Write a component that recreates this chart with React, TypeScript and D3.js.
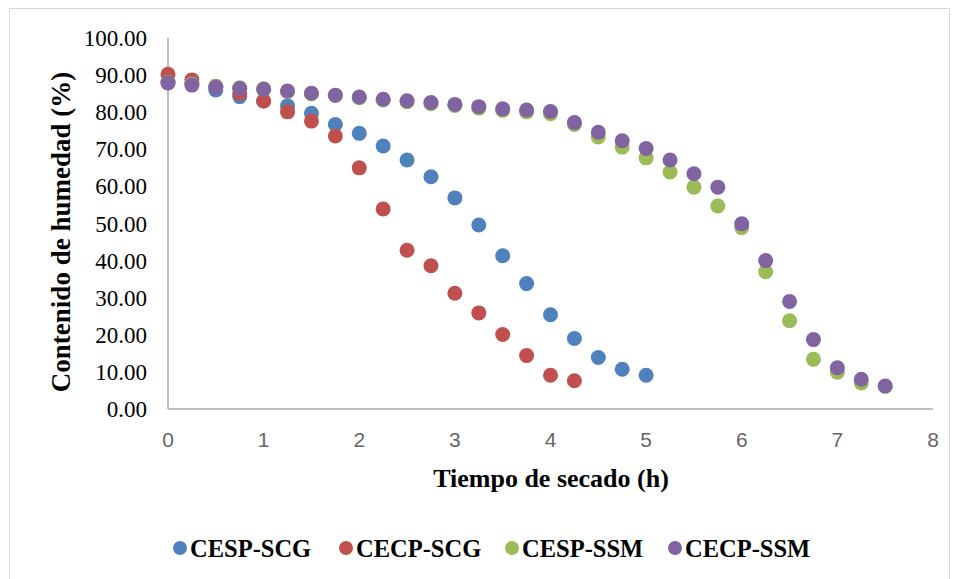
import React from 'react';
import * as d3 from 'd3';

// drying time (h) for each measurement
const tiempo = [0, 0.25, 0.5, 0.75, 1, 1.25, 1.5, 1.75, 2, 2.25, 2.5, 2.75, 3, 3.25, 3.5, 3.75,
    4, 4.25, 4.5, 4.75, 5, 5.25, 5.5, 5.75, 6, 6.25, 6.5, 6.75, 7, 7.25, 7.5];

// moisture content (%) per series
const cespScg = [88.0, 87.8, 86.0, 84.2, 83.0, 81.7, 79.7, 76.7, 74.3, 70.9, 67.1, 62.6, 56.9, 49.6,
    41.3, 33.8, 25.4, 19.0, 13.9, 10.7, 9.1];
const cecpScg = [90.2, 88.7, 87.0, 85.1, 83.0, 80.1, 77.6, 73.6, 65.0, 53.9, 42.8, 38.6, 31.2, 25.9,
    20.1, 14.4, 9.1, 7.6];
const cespSsm = [88.0, 87.6, 86.9, 86.6, 86.3, 85.6, 85.0, 84.5, 83.9, 83.3, 82.8, 82.3, 81.8, 81.1,
    80.5, 80.1, 79.6, 76.7, 73.3, 70.6, 67.7, 63.9, 59.8, 54.7, 48.9, 37.0, 23.8, 13.4, 9.9, 7.0, 6.1];
const cecpSsm = [87.9, 87.3, 86.7, 86.4, 86.2, 85.7, 85.1, 84.6, 84.1, 83.5, 83.1, 82.6, 82.1, 81.5,
    80.9, 80.6, 80.2, 77.2, 74.6, 72.3, 70.2, 67.1, 63.4, 59.8, 49.9, 40.0, 29.0, 18.7, 11.1, 8.0, 6.2];

const seriesNames = ['CESP-SCG', 'CECP-SCG', 'CESP-SSM', 'CECP-SSM'];
const seriesValues = [cespScg, cecpScg, cespSsm, cecpSsm];
const seriesColors = ['#4F81BD', '#C0504D', '#9BBB59', '#8064A2'];

const yTicks = [0, 10, 20, 30, 40, 50, 60, 70, 80, 90, 100];
const xTicks = [0, 1, 2, 3, 4, 5, 6, 7, 8];

const W = 959;
const H = 579;

export default function App() {
    const x = d3.scaleLinear().domain([0, 8]).range([168, 933]);
    const y = d3.scaleLinear().domain([0, 100]).range([409, 38]);
    const fmt = d3.format('.2f');

    // legend item positions (dot x)
    const legendX = [180, 346, 512, 675];

    return (
        <svg width={W} height={H} style={{ position: 'absolute', left: 0, top: 0, background: '#fff' }}>
            <rect x={9.5} y={8.5} width={940} height={600} fill="#fff" stroke="#d9d9d9" strokeWidth={1} />

            {/* axes */}
            <line x1={x(0)} x2={x(0)} y1={y(100)} y2={y(0)} stroke="#bfbfbf" strokeWidth={2} />
            <line x1={x(0)} x2={x(8)} y1={y(0)} y2={y(0)} stroke="#bfbfbf" strokeWidth={2} />

            {yTicks.map(t => (
                <text key={'y' + t} x={147} y={y(t)} dy="0.35em" textAnchor="end"
                    fontFamily="'Liberation Serif', 'Times New Roman', serif" fontSize={23} fill="#000">
                    {fmt(t)}
                </text>
            ))}
            {xTicks.map(t => (
                <text key={'x' + t} x={x(t)} y={440} dy="0.35em" textAnchor="middle"
                    fontFamily="'Liberation Sans', Arial, sans-serif" fontSize={21} fill="#666">
                    {t}
                </text>
            ))}

            {/* points */}
            {seriesValues.map((vals, si) => (
                <g key={seriesNames[si]} fill={seriesColors[si]}>
                    {vals.map((v, i) => (
                        <circle key={i} cx={x(tiempo[i])} cy={y(v)} r={7.5} />
                    ))}
                </g>
            ))}

            {/* titles */}
            <text x={551} y={478} dy="0.35em" textAnchor="middle"
                fontFamily="'Liberation Serif', 'Times New Roman', serif" fontWeight="bold" fontSize={26}>
                Tiempo de secado (h)
            </text>
            <text transform={`translate(61,${232}) rotate(-90)`} dy="0.35em" textAnchor="middle"
                fontFamily="'Liberation Serif', 'Times New Roman', serif" fontWeight="bold" fontSize={27}>
                Contenido de humedad (%)
            </text>

            {/* legend */}
            {seriesNames.map((n, i) => (
                <g key={'lg' + n} transform={`translate(${legendX[i]},548)`}>
                    <circle cx={0} cy={0} r={7} fill={seriesColors[i]} />
                    <text x={10} y={0} dy="0.35em"
                        fontFamily="'Liberation Serif', 'Times New Roman', serif" fontWeight="bold" fontSize={24.5}>
                        {n}
                    </text>
                </g>
            ))}
        </svg>
    );
}
